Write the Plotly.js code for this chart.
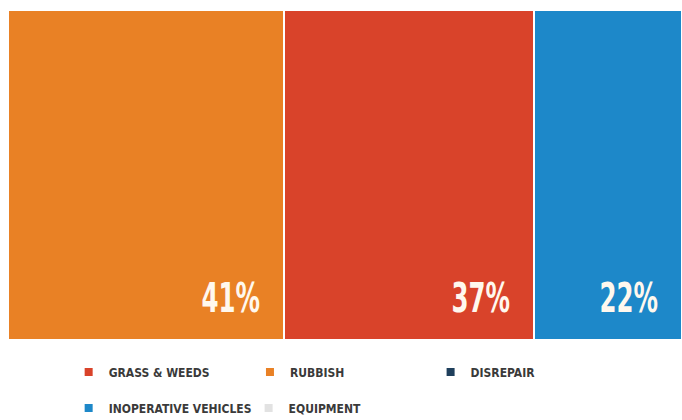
<!DOCTYPE html>
<html>
<head>
<meta charset="utf-8">
<script src="https://cdn.plot.ly/plotly-3.0.1.min.js"></script>
<style>html,body{margin:0;padding:0;background:#fff;}#chart{width:682px;height:420px;}</style>
</head>
<body>
<div id="chart"></div>
<script>
// Data
const barCategories = ['RUBBISH', 'GRASS & WEEDS', 'INOPERATIVE VEHICLES'];
const barValues = [41, 37, 22];
const barLabels = ['41%', '37%', '22%'];
const barColors = ['#E98125', '#D9432A', '#1D88C9'];

const legendNames = ['GRASS & WEEDS', 'RUBBISH', 'DISREPAIR', 'INOPERATIVE VEHICLES', 'EQUIPMENT'];
const legendColors = ['#D9432A', '#E98125', '#1F3F5C', '#1D88C9', '#E2E2E2'];

const FONT = '"DejaVu Sans Condensed", "DejaVu Sans", sans-serif';

const traces = [];
barCategories.forEach((name, i) => {
  traces.push({
    type: 'bar', orientation: 'h', name: name,
    y: ['share'], x: [barValues[i]],
    marker: {color: barColors[i], line: {color: '#ffffff', width: 2}},
    showlegend: false, hoverinfo: 'none'
  });
});

const legendPos = [
  {x: 0.090, y: -0.097}, {x: 0.359, y: -0.097}, {x: 0.627, y: -0.097},
  {x: 0.090, y: -0.206}, {x: 0.357, y: -0.206}
];
const layoutLegends = {};
legendNames.forEach((name, i) => {
  const key = i === 0 ? 'legend' : 'legend' + (i + 1);
  traces.push({
    type: 'scatter', mode: 'markers', name: name,
    x: [null], y: [null],
    marker: {symbol: 'square', size: 8, color: legendColors[i]},
    showlegend: true, legend: key, hoverinfo: 'none'
  });
  layoutLegends[key] = {
    x: legendPos[i].x, y: legendPos[i].y, xanchor: 'left', yanchor: 'middle',
    orientation: 'h', bgcolor: 'rgba(0,0,0,0)', borderwidth: 0,
    itemwidth: 30,
    font: {family: FONT, size: 12, color: '#3a3a3a', weight: 'bold'}
  };
});

// Annotations: labels at the bottom-right of each block
const annotations = [];
let cum = 0;
barValues.forEach((v, i) => {
  cum += v;
  annotations.push({
    x: cum, y: -0.5, xref: 'x', yref: 'y',
    text: barLabels[i], showarrow: false,
    xanchor: 'right', yanchor: 'bottom', xshift: -22, yshift: 17,
    font: {family: FONT, size: 40, color: '#FFF8EE', weight: 'bold'}
  });
});

const layout = Object.assign({
  width: 682, height: 420,
  margin: {l: 8, r: 0, t: 10, b: 80, autoexpand: false},
  paper_bgcolor: '#ffffff', plot_bgcolor: '#ffffff',
  barmode: 'stack', bargap: 0,
  xaxis: {range: [0, 100], visible: false, fixedrange: true},
  yaxis: {range: [-0.5, 0.5], visible: false, fixedrange: true},
  annotations: annotations,
  showlegend: true
}, layoutLegends);

// Horizontally condense the big labels to imitate the narrow display face of the original
function condense(el, s) {
  try {
    if (!el.hasAttribute('data-base')) el.setAttribute('data-base', el.getAttribute('transform') || '');
    const base = el.getAttribute('data-base');
    const bb = el.getBBox();
    if (!bb || !bb.width) return;
    const ax = bb.x + bb.width;
    el.setAttribute('transform', base + ` translate(${ax * (1 - s)},0) scale(${s},1)`);
  } catch (e) {}
}

Plotly.newPlot('chart', traces, layout, {displayModeBar: false, staticPlot: true}).then(gd => {
  gd.querySelectorAll('text.annotation-text').forEach(t => condense(t, 0.68));
});
</script>
</body>
</html>
